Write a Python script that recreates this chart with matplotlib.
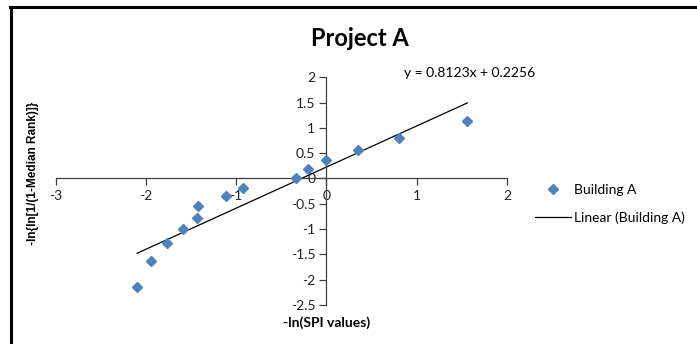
import numpy as np
import matplotlib
matplotlib.use("Agg")
import matplotlib.pyplot as plt
from matplotlib.lines import Line2D

# data
spi_x = [-2.097, -1.949, -1.762, -1.590, -1.437, -1.428, -1.113, -0.920,
         -0.335, -0.202, 0.000, 0.349, 0.807, 1.560]
rank_y = [-2.146, -1.640, -1.284, -1.000, -0.777, -0.553, -0.348, -0.184,
          0.000, 0.190, 0.356, 0.561, 0.804, 1.140]
slope = 0.8123
intercept = 0.2256
x_ticks = [-3, -2, -1, 0, 1, 2]
y_ticks = [-2.5, -2, -1.5, -1, -0.5, 0, 0.5, 1, 1.5, 2]

plt.rcParams['font.family'] = ['Lato', 'DejaVu Sans']

fig = plt.figure(figsize=(6.97, 3.44), dpi=100)
ax = fig.add_axes([0.0798, 0.1134, 0.6476, 0.662])

blue = '#4F81BD'
axis_col = '#404040'

pts, = ax.plot(spi_x, rank_y, linestyle='none', marker='D', markersize=5,
               color=blue, label='Building A', zorder=3)
xs = np.array([min(spi_x), max(spi_x)])
trend, = ax.plot(xs, slope * xs + intercept, color='black', lw=0.9,
                 label='Linear (Building A)', zorder=2)

ax.set_xlim(-3, 2)
ax.set_ylim(-2.5, 2)

# axes cross at zero like the Excel chart
for s in ['top', 'right']:
    ax.spines[s].set_visible(False)
ax.spines['left'].set_position(('data', 0))
ax.spines['bottom'].set_position(('data', 0))
for s in ['left', 'bottom']:
    ax.spines[s].set_color(axis_col)
    ax.spines[s].set_linewidth(0.9)

ax.set_xticks(x_ticks)
ax.set_xticklabels([f"{t:g}" for t in x_ticks])
ax.set_yticks(y_ticks)
ax.set_yticklabels([f"{t:g}" for t in y_ticks])
ax.tick_params(axis='both', direction='out', length=5, width=0.9,
               color=axis_col, labelsize=10, labelcolor='#222222', pad=3)
ax.patch.set_alpha(0)

fig.text(360 / 697, 1 - 39 / 344, 'Project A', ha='center', va='center',
         fontsize=17, fontweight='bold')
fig.text(470 / 697, 1 - 73 / 344, f'y = {slope}x + {intercept}',
         ha='center', va='center', fontsize=10)
fig.text(33 / 697, 1 - 173 / 344, '-ln{ln[1/(1-Median Rank)]}', rotation=90,
         ha='center', va='center', fontsize=8.5, fontweight='bold',
         family=['Liberation Sans', 'DejaVu Sans'])
fig.text(327 / 697, 1 - 323 / 344, '-ln(SPI values)', ha='center',
         va='center', fontsize=10, fontweight='bold')

fig.legend(handles=[pts, trend], loc='upper left',
           bbox_to_anchor=(528 / 697, 1 - 177 / 344), frameon=False,
           fontsize=10, handlelength=2.6, handletextpad=0.2,
           labelspacing=1.1, borderpad=0)

# screenshot border along the top and left
fig.add_artist(Line2D([11 / 697, 11 / 697], [0, 1 - 7 / 344],
                      transform=fig.transFigure, color='black', lw=2.2))
fig.add_artist(Line2D([10 / 697, 1], [1 - 7 / 344, 1 - 7 / 344],
                      transform=fig.transFigure, color='black', lw=2.2))

fig.savefig('out.png', dpi=100)
